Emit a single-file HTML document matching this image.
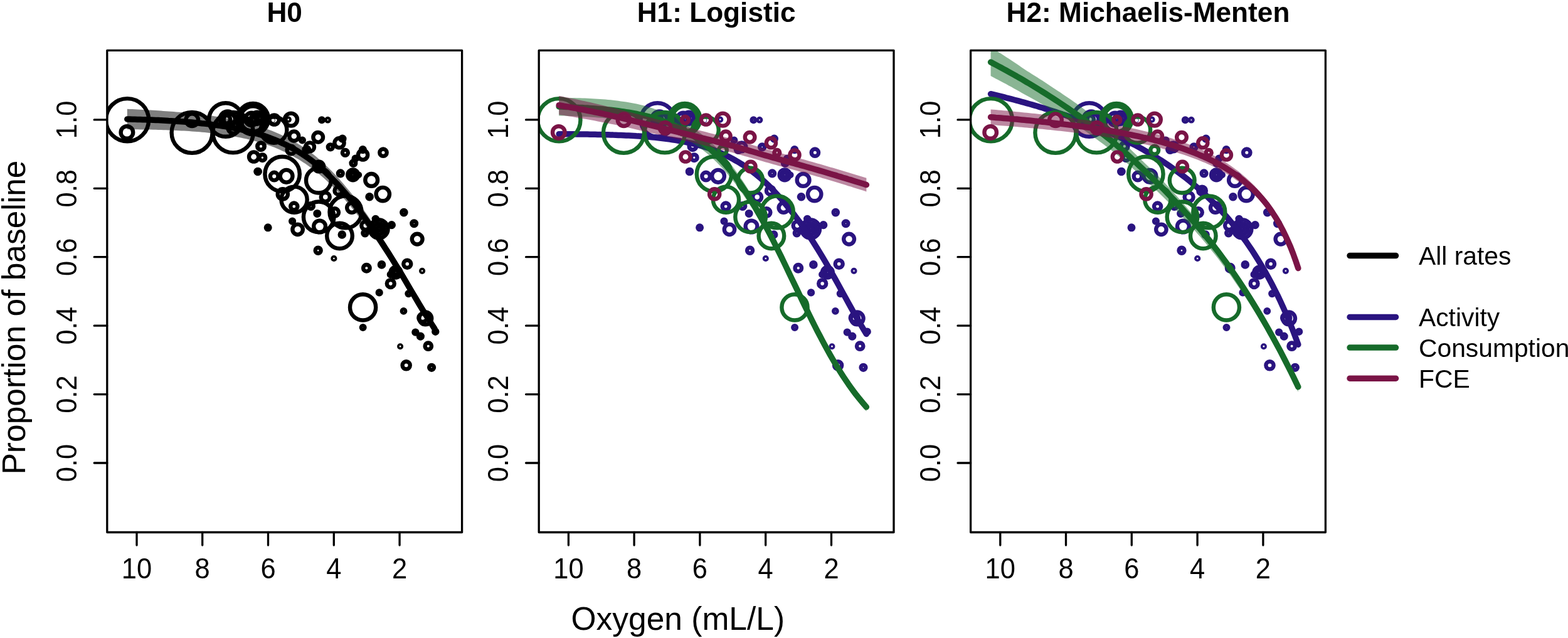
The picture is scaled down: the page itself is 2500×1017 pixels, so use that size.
<!DOCTYPE html>
<html lang="en"><head><meta charset="utf-8"><title>Oxygen response hypotheses</title>
<style>html,body{margin:0;padding:0;background:#fff}body{width:2500px;height:1017px;overflow:hidden}svg{display:block}text{font-family:'Liberation Sans', Arial, Helvetica, sans-serif}</style></head><body>
<svg width="2500" height="1017" viewBox="0 0 2500 1017">
<rect width="2500" height="1017" fill="#fff"/>
<defs>
<clipPath id="clip0"><rect x="170.8" y="80.4" width="565.8" height="768.1"/></clipPath>
<clipPath id="clip1"><rect x="859.2" y="80.4" width="565.8" height="768.1"/></clipPath>
<clipPath id="clip2"><rect x="1547.6" y="80.4" width="565.8" height="768.1"/></clipPath>
</defs>
<g clip-path="url(#clip0)">
<g fill="none" stroke="#000000" stroke-width="6.4">
<circle cx="203" cy="191.2" r="34.1"/>
<circle cx="202.4" cy="211" r="9.8"/>
<circle cx="306.2" cy="191.2" r="9.8"/>
<circle cx="306.1" cy="211.4" r="32.5"/>
<circle cx="371.6" cy="211.2" r="32.2"/>
<circle cx="359.9" cy="191" r="26.8"/>
<circle cx="363" cy="189.8" r="12.3"/>
<circle cx="360.8" cy="190.3" r="6.3"/>
<circle cx="365.8" cy="190.5" r="9.1"/>
<circle cx="403.4" cy="189.6" r="24.6"/>
<circle cx="403.4" cy="189.6" r="20.2"/>
<circle cx="404" cy="191.2" r="5.5"/>
<circle cx="404.6" cy="191" r="0.3"/>
<circle cx="410.1" cy="188.3" r="9.6"/>
<circle cx="437.2" cy="191" r="7.6"/>
<circle cx="435.2" cy="191.8" r="0.4"/>
<circle cx="464" cy="190.6" r="10"/>
<circle cx="459.8" cy="190.6" r="1.9"/>
<circle cx="436.6" cy="207" r="20.8"/>
<circle cx="468.8" cy="217" r="7.5"/>
<circle cx="507.2" cy="218.8" r="7.8"/>
<circle cx="372.2" cy="203.8" r="8.8"/>
<circle cx="404.6" cy="250" r="7.6"/>
<circle cx="418.4" cy="251.2" r="4.8"/>
<circle cx="411.2" cy="273.4" r="3.4"/>
<circle cx="416" cy="233.2" r="5.8"/>
<circle cx="464" cy="239.2" r="6.4"/>
<circle cx="482" cy="223.6" r="2.8"/>
<circle cx="494" cy="234.4" r="7"/>
<circle cx="508.4" cy="265.6" r="7.8"/>
<circle cx="513" cy="191.2" r="2.8"/>
<circle cx="522.6" cy="191.2" r="2.2"/>
<circle cx="541" cy="227.8" r="7.6"/>
<circle cx="546" cy="221.2" r="3.4"/>
<circle cx="526.8" cy="234.4" r="4"/>
<circle cx="550.4" cy="243.4" r="4.5"/>
<circle cx="578.6" cy="247" r="7.6"/>
<circle cx="578.4" cy="238.6" r="3.4"/>
<circle cx="611" cy="243.2" r="5.7"/>
<circle cx="450.8" cy="309.4" r="8.1"/>
<circle cx="411" cy="273.6" r="3.5"/>
<circle cx="437.2" cy="281.1" r="6.3"/>
<circle cx="456.6" cy="280.8" r="9.9"/>
<circle cx="542.8" cy="276.4" r="3.9"/>
<circle cx="562.7" cy="278.8" r="8.4"/>
<circle cx="571.8" cy="278.8" r="2.2"/>
<circle cx="592.2" cy="286.9" r="9.9"/>
<circle cx="610.3" cy="309.6" r="10.7"/>
<circle cx="589.1" cy="313.8" r="3.6"/>
<circle cx="643.9" cy="338.6" r="3.6"/>
<circle cx="660.2" cy="356.3" r="3.8"/>
<circle cx="468.8" cy="329.1" r="5.6"/>
<circle cx="518.8" cy="314.1" r="7"/>
<circle cx="539.8" cy="303.9" r="6.3"/>
<circle cx="560.9" cy="331.1" r="7.7"/>
<circle cx="533.7" cy="338.6" r="6.3"/>
<circle cx="495.6" cy="328.4" r="4.3"/>
<circle cx="505.8" cy="340.4" r="3.3"/>
<circle cx="466.1" cy="352.6" r="2.9"/>
<circle cx="427.2" cy="362.8" r="3.3"/>
<circle cx="474.6" cy="365.8" r="8.2"/>
<circle cx="509.6" cy="361" r="9.4"/>
<circle cx="545.3" cy="374" r="3.6"/>
<circle cx="450.1" cy="277.4" r="27.7"/>
<circle cx="507.9" cy="287.6" r="19.9"/>
<circle cx="469.1" cy="318.2" r="20.6"/>
<circle cx="508.2" cy="345.8" r="24.3"/>
<circle cx="551" cy="337.9" r="25.5"/>
<circle cx="541.5" cy="376" r="20.3"/>
<circle cx="507.2" cy="399.2" r="4.5"/>
<circle cx="532.4" cy="412" r="1.9"/>
<circle cx="584.4" cy="427.3" r="5.3"/>
<circle cx="608.5" cy="421.9" r="3.6"/>
<circle cx="649.3" cy="420.8" r="6"/>
<circle cx="673.1" cy="431.8" r="1.9"/>
<circle cx="622.8" cy="452.1" r="6"/>
<circle cx="604.7" cy="466.4" r="2.9"/>
<circle cx="631" cy="434.1" r="8.4"/>
<circle cx="622.8" cy="437.5" r="2.9"/>
<circle cx="651.4" cy="468.1" r="2.9"/>
<circle cx="665.2" cy="381.1" r="8.4"/>
<circle cx="582" cy="371.6" r="3.6"/>
<circle cx="578.6" cy="489.9" r="20.6"/>
<circle cx="643.5" cy="495.9" r="2.7"/>
<circle cx="678.3" cy="507.4" r="9.9"/>
<circle cx="673.9" cy="506.5" r="6.5"/>
<circle cx="694.3" cy="528.7" r="3"/>
<circle cx="662.4" cy="529.6" r="3"/>
<circle cx="670.4" cy="536.1" r="3.4"/>
<circle cx="682.8" cy="551.7" r="5.2"/>
<circle cx="638.1" cy="552.2" r="1.8"/>
<circle cx="578.7" cy="521.9" r="2.8"/>
<circle cx="647.7" cy="582.3" r="6.1"/>
<circle cx="688.1" cy="585.8" r="3.9"/>
<circle cx="604.1" cy="364.9" r="14.5"/>
<circle cx="604.1" cy="364.9" r="8.7"/>
<circle cx="604.1" cy="364.9" r="3"/>
<circle cx="598.8" cy="348.9" r="3"/>
<circle cx="624.4" cy="358.7" r="3.4"/>
<circle cx="582.8" cy="359.6" r="6.5"/>
<circle cx="412.3" cy="188.5" r="5.3"/>
<circle cx="562.7" cy="278.8" r="3.6"/>
<circle cx="631" cy="434.1" r="3.6"/>
<circle cx="631" cy="434.1" r="0.3"/>
<circle cx="401.1" cy="189.8" r="10.1"/>
<circle cx="416" cy="233.2" r="1"/>
<circle cx="566.7" cy="252.6" r="3"/>
<circle cx="563.4" cy="260.1" r="3.8"/>
<circle cx="488.8" cy="238.5" r="4.3"/>
</g>
<path d="M202.8 173.8 L206.9 173.9 L211 174.1 L215.1 174.3 L219.2 174.5 L223.4 174.7 L227.5 174.9 L231.6 175.1 L235.7 175.4 L239.8 175.6 L244 175.8 L248.1 176.1 L252.2 176.3 L256.3 176.6 L260.4 176.9 L264.6 177.2 L268.7 177.5 L272.8 177.8 L276.9 178.1 L281 178.4 L285.2 178.8 L289.3 179.1 L293.4 179.5 L297.5 179.9 L301.6 180.3 L305.8 180.8 L309.9 181.2 L314 181.7 L318.1 182.1 L322.2 182.6 L326.4 183.2 L330.5 183.7 L334.6 184.2 L338.7 184.8 L342.8 185.4 L346.9 186.1 L351.1 186.7 L355.2 187.4 L359.3 188.1 L363.4 188.9 L367.5 189.7 L371.7 190.5 L375.8 191.4 L379.9 192.3 L384 193.3 L388.1 194.2 L392.3 195.3 L396.4 196.4 L400.5 197.5 L404.6 198.7 L408.7 199.9 L412.9 201.2 L417 202.6 L421.1 204 L425.2 205.5 L429.3 207 L433.5 208.6 L437.6 210.3 L441.7 212 L445.8 213.8 L449.9 215.7 L454.1 217.7 L458.2 219.8 L462.3 222 L466.4 224.2 L470.5 226.6 L474.7 229 L478.8 231.6 L482.9 234.2 L487 237 L491.1 239.9 L495.3 242.9 L499.4 246 L503.5 249.3 L507.6 252.8 L511.7 256.4 L515.9 260.1 L520 264 L524.1 267.9 L528.2 272 L532.3 276.3 L536.5 280.6 L540.6 285.1 L544.7 289.7 L548.8 294.5 L552.9 299.4 L557.1 304.4 L561.2 309.5 L565.3 314.8 L569.4 320.1 L573.5 325.7 L577.7 331.4 L581.8 337.2 L585.9 343.1 L590 349.2 L594.1 355.3 L598.3 361.6 L602.4 367.9 L606.5 374.3 L610.6 380.9 L614.7 387.3 L618.9 393.9 L623 400.5 L627.1 407.1 L631.2 413.9 L635.3 420.7 L639.5 427.7 L643.6 434.7 L647.7 441.8 L651.8 448.9 L655.9 456 L660.1 463.1 L664.2 470.1 L668.3 477.1 L672.4 484 L676.5 490.8 L680.7 497.5 L684.8 504.1 L688.9 510.7 L693 517.1 L693 531.1 L688.9 524.9 L684.8 518.5 L680.7 512.1 L676.5 505.6 L672.4 499 L668.3 492.3 L664.2 485.5 L660.1 478.7 L655.9 471.8 L651.8 464.9 L647.7 458 L643.6 451.1 L639.5 444.3 L635.3 437.5 L631.2 430.9 L627.1 424.3 L623 417.9 L618.9 411.5 L614.7 405.2 L610.6 398.9 L606.5 392.8 L602.4 386.7 L598.3 380.8 L594.1 374.9 L590 369.2 L585.9 363.5 L581.8 358 L577.7 352.6 L573.5 347.3 L569.4 342.1 L565.3 336.9 L561.2 331.7 L557.1 326.7 L552.9 321.8 L548.8 317 L544.7 312.4 L540.6 307.9 L536.5 303.5 L532.3 299.3 L528.2 295.2 L524.1 291.2 L520 287.3 L515.9 283.6 L511.7 279.9 L507.6 276.5 L503.5 273.1 L499.4 269.9 L495.3 266.9 L491.1 264 L487 261.1 L482.9 258.4 L478.8 255.8 L474.7 253.3 L470.5 250.9 L466.4 248.6 L462.3 246.4 L458.2 244.3 L454.1 242.3 L449.9 240.4 L445.8 238.6 L441.7 236.8 L437.6 235.1 L433.5 233.5 L429.3 232 L425.2 230.6 L421.1 229.2 L417 227.9 L412.9 226.7 L408.7 225.5 L404.6 224.3 L400.5 223.3 L396.4 222.3 L392.3 221.3 L388.1 220.4 L384 219.5 L379.9 218.7 L375.8 217.9 L371.7 217.1 L367.5 216.4 L363.4 215.7 L359.3 215.1 L355.2 214.5 L351.1 213.9 L346.9 213.4 L342.8 212.9 L338.7 212.4 L334.6 211.9 L330.5 211.5 L326.4 211.1 L322.2 210.7 L318.1 210.3 L314 210 L309.9 209.7 L305.8 209.4 L301.6 209.1 L297.5 208.8 L293.4 208.6 L289.3 208.4 L285.2 208.2 L281 208 L276.9 207.8 L272.8 207.6 L268.7 207.5 L264.6 207.3 L260.4 207.2 L256.3 207 L252.2 206.9 L248.1 206.8 L244 206.7 L239.8 206.6 L235.7 206.6 L231.6 206.5 L227.5 206.4 L223.4 206.4 L219.2 206.3 L215.1 206.3 L211 206.2 L206.9 206.2 L202.8 206.2Z" fill="#000000" fill-opacity="0.5" stroke="none"/>
<path d="M202.8 190 L206.9 190.1 L211 190.2 L215.1 190.3 L219.2 190.4 L223.4 190.5 L227.5 190.7 L231.6 190.8 L235.7 191 L239.8 191.1 L244 191.3 L248.1 191.5 L252.2 191.6 L256.3 191.8 L260.4 192 L264.6 192.2 L268.7 192.5 L272.8 192.7 L276.9 192.9 L281 193.2 L285.2 193.5 L289.3 193.8 L293.4 194.1 L297.5 194.4 L301.6 194.7 L305.8 195.1 L309.9 195.4 L314 195.8 L318.1 196.2 L322.2 196.7 L326.4 197.1 L330.5 197.6 L334.6 198.1 L338.7 198.6 L342.8 199.1 L346.9 199.7 L351.1 200.3 L355.2 201 L359.3 201.6 L363.4 202.3 L367.5 203.1 L371.7 203.8 L375.8 204.6 L379.9 205.5 L384 206.4 L388.1 207.3 L392.3 208.3 L396.4 209.3 L400.5 210.4 L404.6 211.5 L408.7 212.7 L412.9 213.9 L417 215.2 L421.1 216.6 L425.2 218 L429.3 219.5 L433.5 221.1 L437.6 222.7 L441.7 224.4 L445.8 226.2 L449.9 228.1 L454.1 230 L458.2 232.1 L462.3 234.2 L466.4 236.4 L470.5 238.7 L474.7 241.2 L478.8 243.7 L482.9 246.3 L487 249.1 L491.1 251.9 L495.3 254.9 L499.4 258 L503.5 261.2 L507.6 264.6 L511.7 268.2 L515.9 271.8 L520 275.6 L524.1 279.6 L528.2 283.6 L532.3 287.8 L536.5 292.1 L540.6 296.5 L544.7 301.1 L548.8 305.8 L552.9 310.6 L557.1 315.5 L561.2 320.6 L565.3 325.8 L569.4 331.1 L573.5 336.5 L577.7 342 L581.8 347.6 L585.9 353.3 L590 359.2 L594.1 365.1 L598.3 371.2 L602.4 377.3 L606.5 383.5 L610.6 389.9 L614.7 396.3 L618.9 402.7 L623 409.2 L627.1 415.7 L631.2 422.4 L635.3 429.1 L639.5 436 L643.6 442.9 L647.7 449.9 L651.8 456.9 L655.9 463.9 L660.1 470.9 L664.2 477.8 L668.3 484.7 L672.4 491.5 L676.5 498.2 L680.7 504.8 L684.8 511.3 L688.9 517.8 L693 524.1" fill="none" stroke="#000000" stroke-width="9.5" stroke-linecap="round" stroke-linejoin="round"/>
</g>
<rect x="170.8" y="80.4" width="565.8" height="768.1" fill="none" stroke="#000" stroke-width="3.3" stroke-linejoin="round"/>
<path d="M218 848.5 V869.1 M322.7 848.5 V869.1 M427.5 848.5 V869.1 M532.3 848.5 V869.1 M637.1 848.5 V869.1 M170.8 738 H150.2 M170.8 628.6 H150.2 M170.8 519.2 H150.2 M170.8 409.7 H150.2 M170.8 300.3 H150.2 M170.8 190.9 H150.2" fill="none" stroke="#000" stroke-width="3.3" stroke-linecap="round"/>
<g font-size="43.5" text-anchor="middle" fill="#000">
<text transform="translate(218 922.4) scale(1 1.075)">10</text>
<text transform="translate(322.7 922.4) scale(1 1.075)">8</text>
<text transform="translate(427.5 922.4) scale(1 1.075)">6</text>
<text transform="translate(532.3 922.4) scale(1 1.075)">4</text>
<text transform="translate(637.1 922.4) scale(1 1.075)">2</text>
<text transform="translate(122 738) rotate(-90) scale(1 1.075)">0.0</text>
<text transform="translate(122 628.6) rotate(-90) scale(1 1.075)">0.2</text>
<text transform="translate(122 519.2) rotate(-90) scale(1 1.075)">0.4</text>
<text transform="translate(122 409.7) rotate(-90) scale(1 1.075)">0.6</text>
<text transform="translate(122 300.3) rotate(-90) scale(1 1.075)">0.8</text>
<text transform="translate(122 190.9) rotate(-90) scale(1 1.075)">1.0</text>
</g>
<g clip-path="url(#clip1)">
<g fill="none" stroke="#2a1480" stroke-width="6.4">
<circle cx="1048.3" cy="191" r="26.8"/>
<circle cx="1051.4" cy="189.8" r="12.3"/>
<circle cx="1049.2" cy="190.3" r="6.3"/>
<circle cx="1054.2" cy="190.5" r="9.1"/>
<circle cx="1093" cy="191" r="0.3"/>
<circle cx="1098.5" cy="188.3" r="9.6"/>
<circle cx="1123.6" cy="191.8" r="0.4"/>
<circle cx="1148.2" cy="190.6" r="1.9"/>
<circle cx="1106.8" cy="251.2" r="4.8"/>
<circle cx="1099.6" cy="273.4" r="3.4"/>
<circle cx="1104.4" cy="233.2" r="5.8"/>
<circle cx="1170.4" cy="223.6" r="2.8"/>
<circle cx="1182.4" cy="234.4" r="7"/>
<circle cx="1201.4" cy="191.2" r="2.8"/>
<circle cx="1211" cy="191.2" r="2.2"/>
<circle cx="1234.4" cy="221.2" r="3.4"/>
<circle cx="1215.2" cy="234.4" r="4"/>
<circle cx="1266.8" cy="238.6" r="3.4"/>
<circle cx="1299.4" cy="243.2" r="5.7"/>
<circle cx="1099.4" cy="273.6" r="3.5"/>
<circle cx="1125.6" cy="281.1" r="6.3"/>
<circle cx="1145" cy="280.8" r="9.9"/>
<circle cx="1231.2" cy="276.4" r="3.9"/>
<circle cx="1251.1" cy="278.8" r="8.4"/>
<circle cx="1260.2" cy="278.8" r="2.2"/>
<circle cx="1280.6" cy="286.9" r="9.9"/>
<circle cx="1298.7" cy="309.6" r="10.7"/>
<circle cx="1277.5" cy="313.8" r="3.6"/>
<circle cx="1332.3" cy="338.6" r="3.6"/>
<circle cx="1348.6" cy="356.3" r="3.8"/>
<circle cx="1157.2" cy="329.1" r="5.6"/>
<circle cx="1207.2" cy="314.1" r="7"/>
<circle cx="1228.2" cy="303.9" r="6.3"/>
<circle cx="1249.3" cy="331.1" r="7.7"/>
<circle cx="1222.1" cy="338.6" r="6.3"/>
<circle cx="1184" cy="328.4" r="4.3"/>
<circle cx="1194.2" cy="340.4" r="3.3"/>
<circle cx="1154.5" cy="352.6" r="2.9"/>
<circle cx="1115.6" cy="362.8" r="3.3"/>
<circle cx="1163" cy="365.8" r="8.2"/>
<circle cx="1198" cy="361" r="9.4"/>
<circle cx="1233.7" cy="374" r="3.6"/>
<circle cx="1195.6" cy="399.2" r="4.5"/>
<circle cx="1220.8" cy="412" r="1.9"/>
<circle cx="1272.8" cy="427.3" r="5.3"/>
<circle cx="1296.9" cy="421.9" r="3.6"/>
<circle cx="1337.7" cy="420.8" r="6"/>
<circle cx="1361.5" cy="431.8" r="1.9"/>
<circle cx="1311.2" cy="452.1" r="6"/>
<circle cx="1293.1" cy="466.4" r="2.9"/>
<circle cx="1319.4" cy="434.1" r="8.4"/>
<circle cx="1311.2" cy="437.5" r="2.9"/>
<circle cx="1339.8" cy="468.1" r="2.9"/>
<circle cx="1353.6" cy="381.1" r="8.4"/>
<circle cx="1270.4" cy="371.6" r="3.6"/>
<circle cx="1331.9" cy="495.9" r="2.7"/>
<circle cx="1366.7" cy="507.4" r="9.9"/>
<circle cx="1362.3" cy="506.5" r="6.5"/>
<circle cx="1382.7" cy="528.7" r="3"/>
<circle cx="1350.8" cy="529.6" r="3"/>
<circle cx="1358.8" cy="536.1" r="3.4"/>
<circle cx="1371.2" cy="551.7" r="5.2"/>
<circle cx="1326.5" cy="552.2" r="1.8"/>
<circle cx="1267.1" cy="521.9" r="2.8"/>
<circle cx="1336.1" cy="582.3" r="6.1"/>
<circle cx="1376.5" cy="585.8" r="3.9"/>
<circle cx="1292.5" cy="364.9" r="14.5"/>
<circle cx="1292.5" cy="364.9" r="8.7"/>
<circle cx="1292.5" cy="364.9" r="3"/>
<circle cx="1287.2" cy="348.9" r="3"/>
<circle cx="1312.8" cy="358.7" r="3.4"/>
<circle cx="1271.2" cy="359.6" r="6.5"/>
<circle cx="1100.7" cy="188.5" r="5.3"/>
<circle cx="1251.1" cy="278.8" r="3.6"/>
<circle cx="1319.4" cy="434.1" r="3.6"/>
<circle cx="1319.4" cy="434.1" r="0.3"/>
<circle cx="1089.5" cy="189.8" r="10.1"/>
<circle cx="1104.4" cy="233.2" r="1"/>
<circle cx="1255.1" cy="252.6" r="3"/>
<circle cx="1251.8" cy="260.1" r="3.8"/>
<circle cx="1177.2" cy="238.5" r="4.3"/>
</g>
<path d="M891.2 209.7 L895.3 209.7 L899.4 209.7 L903.5 209.7 L907.6 209.8 L911.8 209.8 L915.9 209.8 L920 209.9 L924.1 209.9 L928.2 210 L932.4 210 L936.5 210.1 L940.6 210.2 L944.7 210.2 L948.8 210.3 L953 210.4 L957.1 210.5 L961.2 210.6 L965.3 210.7 L969.4 210.8 L973.6 210.9 L977.7 211.1 L981.8 211.2 L985.9 211.4 L990 211.5 L994.2 211.7 L998.3 211.9 L1002.4 212.1 L1006.5 212.3 L1010.6 212.5 L1014.8 212.8 L1018.9 213 L1023 213.3 L1027.1 213.6 L1031.2 214 L1035.3 214.3 L1039.5 214.7 L1043.6 215.1 L1047.7 215.5 L1051.8 216 L1055.9 216.5 L1060.1 217 L1064.2 217.6 L1068.3 218.1 L1072.4 218.8 L1076.5 219.4 L1080.7 220.1 L1084.8 220.8 L1088.9 221.6 L1093 222.4 L1097.1 223.3 L1101.3 224.2 L1105.4 225.2 L1109.5 226.2 L1113.6 227.2 L1117.7 228.4 L1121.9 229.6 L1126 230.9 L1130.1 232.3 L1134.2 233.8 L1138.3 235.3 L1142.5 237 L1146.6 238.7 L1150.7 240.6 L1154.8 242.5 L1158.9 244.5 L1163.1 246.6 L1167.2 248.7 L1171.3 251 L1175.4 253.3 L1179.5 255.8 L1183.7 258.4 L1187.8 261.1 L1191.9 263.9 L1196 266.9 L1200.1 269.9 L1204.3 273.1 L1208.4 276.5 L1212.5 280 L1216.6 283.6 L1220.7 287.3 L1224.9 291.2 L1229 295.3 L1233.1 299.6 L1237.2 304 L1241.3 308.5 L1245.5 313.2 L1249.6 318 L1253.7 322.9 L1257.8 327.9 L1261.9 332.9 L1266.1 338.1 L1270.2 343.5 L1274.3 349 L1278.4 354.8 L1282.5 360.6 L1286.7 366.6 L1290.8 372.8 L1294.9 379.1 L1299 385.6 L1303.1 392.1 L1307.3 398.9 L1311.4 405.7 L1315.5 412.6 L1319.6 419.7 L1323.7 426.8 L1327.9 434.1 L1332 441.4 L1336.1 448.8 L1340.2 456.3 L1344.3 463.7 L1348.5 471.2 L1352.6 478.7 L1356.7 486.1 L1360.8 493.5 L1364.9 500.8 L1369.1 508 L1373.2 514.9 L1377.3 521.7 L1381.4 528.4 L1381.4 536.4 L1377.3 529.7 L1373.2 522.9 L1369.1 516 L1364.9 508.8 L1360.8 501.5 L1356.7 494.1 L1352.6 486.7 L1348.5 479.2 L1344.3 471.7 L1340.2 464.3 L1336.1 456.8 L1332 449.4 L1327.9 442.1 L1323.7 434.8 L1319.6 427.7 L1315.5 420.6 L1311.4 413.7 L1307.3 406.9 L1303.1 400.1 L1299 393.6 L1294.9 387.1 L1290.8 380.8 L1286.7 374.6 L1282.5 368.6 L1278.4 362.8 L1274.3 357 L1270.2 351.5 L1266.1 346.1 L1261.9 340.9 L1257.8 335.9 L1253.7 330.9 L1249.6 326 L1245.5 321.2 L1241.3 316.5 L1237.2 312 L1233.1 307.6 L1229 303.3 L1224.9 299.2 L1220.7 295.3 L1216.6 291.6 L1212.5 288 L1208.4 284.5 L1204.3 281.1 L1200.1 277.9 L1196 274.9 L1191.9 271.9 L1187.8 269.1 L1183.7 266.4 L1179.5 263.8 L1175.4 261.3 L1171.3 259 L1167.2 256.7 L1163.1 254.6 L1158.9 252.5 L1154.8 250.5 L1150.7 248.6 L1146.6 246.7 L1142.5 245 L1138.3 243.3 L1134.2 241.8 L1130.1 240.3 L1126 238.9 L1121.9 237.6 L1117.7 236.4 L1113.6 235.2 L1109.5 234.2 L1105.4 233.2 L1101.3 232.2 L1097.1 231.3 L1093 230.4 L1088.9 229.6 L1084.8 228.8 L1080.7 228.1 L1076.5 227.4 L1072.4 226.8 L1068.3 226.1 L1064.2 225.6 L1060.1 225 L1055.9 224.5 L1051.8 224 L1047.7 223.5 L1043.6 223.1 L1039.5 222.7 L1035.3 222.3 L1031.2 222 L1027.1 221.6 L1023 221.3 L1018.9 221 L1014.8 220.8 L1010.6 220.5 L1006.5 220.3 L1002.4 220.1 L998.3 219.9 L994.2 219.7 L990 219.5 L985.9 219.4 L981.8 219.2 L977.7 219.1 L973.6 218.9 L969.4 218.8 L965.3 218.7 L961.2 218.6 L957.1 218.5 L953 218.4 L948.8 218.3 L944.7 218.2 L940.6 218.2 L936.5 218.1 L932.4 218 L928.2 218 L924.1 217.9 L920 217.9 L915.9 217.8 L911.8 217.8 L907.6 217.8 L903.5 217.7 L899.4 217.7 L895.3 217.7 L891.2 217.7Z" fill="#2a1480" fill-opacity="0.5" stroke="none"/>
<path d="M891.2 213.7 L895.3 213.7 L899.4 213.7 L903.5 213.7 L907.6 213.8 L911.8 213.8 L915.9 213.8 L920 213.9 L924.1 213.9 L928.2 214 L932.4 214 L936.5 214.1 L940.6 214.2 L944.7 214.2 L948.8 214.3 L953 214.4 L957.1 214.5 L961.2 214.6 L965.3 214.7 L969.4 214.8 L973.6 214.9 L977.7 215.1 L981.8 215.2 L985.9 215.4 L990 215.5 L994.2 215.7 L998.3 215.9 L1002.4 216.1 L1006.5 216.3 L1010.6 216.5 L1014.8 216.8 L1018.9 217 L1023 217.3 L1027.1 217.6 L1031.2 218 L1035.3 218.3 L1039.5 218.7 L1043.6 219.1 L1047.7 219.5 L1051.8 220 L1055.9 220.5 L1060.1 221 L1064.2 221.6 L1068.3 222.1 L1072.4 222.8 L1076.5 223.4 L1080.7 224.1 L1084.8 224.8 L1088.9 225.6 L1093 226.4 L1097.1 227.3 L1101.3 228.2 L1105.4 229.2 L1109.5 230.2 L1113.6 231.2 L1117.7 232.4 L1121.9 233.6 L1126 234.9 L1130.1 236.3 L1134.2 237.8 L1138.3 239.3 L1142.5 241 L1146.6 242.7 L1150.7 244.6 L1154.8 246.5 L1158.9 248.5 L1163.1 250.6 L1167.2 252.7 L1171.3 255 L1175.4 257.3 L1179.5 259.8 L1183.7 262.4 L1187.8 265.1 L1191.9 267.9 L1196 270.9 L1200.1 273.9 L1204.3 277.1 L1208.4 280.5 L1212.5 284 L1216.6 287.6 L1220.7 291.3 L1224.9 295.2 L1229 299.3 L1233.1 303.6 L1237.2 308 L1241.3 312.5 L1245.5 317.2 L1249.6 322 L1253.7 326.9 L1257.8 331.9 L1261.9 336.9 L1266.1 342.1 L1270.2 347.5 L1274.3 353 L1278.4 358.8 L1282.5 364.6 L1286.7 370.6 L1290.8 376.8 L1294.9 383.1 L1299 389.6 L1303.1 396.1 L1307.3 402.9 L1311.4 409.7 L1315.5 416.6 L1319.6 423.7 L1323.7 430.8 L1327.9 438.1 L1332 445.4 L1336.1 452.8 L1340.2 460.3 L1344.3 467.7 L1348.5 475.2 L1352.6 482.7 L1356.7 490.1 L1360.8 497.5 L1364.9 504.8 L1369.1 512 L1373.2 518.9 L1377.3 525.7 L1381.4 532.4" fill="none" stroke="#2a1480" stroke-width="9.5" stroke-linecap="round" stroke-linejoin="round"/>
<g fill="none" stroke="#166b2a" stroke-width="6.4">
<circle cx="891.4" cy="191.2" r="34.1"/>
<circle cx="994.5" cy="211.4" r="32.5"/>
<circle cx="1060" cy="211.2" r="32.2"/>
<circle cx="1091.8" cy="189.6" r="24.6"/>
<circle cx="1091.8" cy="189.6" r="20.2"/>
<circle cx="1125" cy="207" r="20.8"/>
<circle cx="1152.4" cy="239.2" r="6.4"/>
<circle cx="1138.5" cy="277.4" r="27.7"/>
<circle cx="1196.3" cy="287.6" r="19.9"/>
<circle cx="1157.5" cy="318.2" r="20.6"/>
<circle cx="1196.6" cy="345.8" r="24.3"/>
<circle cx="1239.4" cy="337.9" r="25.5"/>
<circle cx="1229.9" cy="376" r="20.3"/>
<circle cx="1267" cy="489.9" r="20.6"/>
</g>
<path d="M891.2 155.6 L895.3 155.7 L899.4 155.7 L903.5 155.8 L907.6 155.9 L911.8 156 L915.9 156.1 L920 156.2 L924.1 156.3 L928.2 156.5 L932.4 156.6 L936.5 156.8 L940.6 157 L944.7 157.2 L948.8 157.4 L953 157.7 L957.1 158 L961.2 158.2 L965.3 158.6 L969.4 158.9 L973.6 159.3 L977.7 159.8 L981.8 160.3 L985.9 160.8 L990 161.4 L994.2 162 L998.3 162.6 L1002.4 163.3 L1006.5 164 L1010.6 164.7 L1014.8 165.5 L1018.9 166.5 L1023 167.5 L1027.1 168.6 L1031.2 169.8 L1035.3 171 L1039.5 172.3 L1043.6 173.7 L1047.7 175.1 L1051.8 176.6 L1055.9 178.1 L1060.1 179.8 L1064.2 181.5 L1068.3 183.3 L1072.4 185.2 L1076.5 187.2 L1080.7 189.3 L1084.8 191.5 L1088.9 193.8 L1093 196.2 L1097.1 198.7 L1101.3 201.3 L1105.4 204.1 L1109.5 207 L1113.6 210 L1117.7 213.1 L1121.9 216.5 L1126 219.9 L1130.1 223.6 L1134.2 227.4 L1138.3 231.3 L1142.5 235.5 L1146.6 239.8 L1150.7 244.3 L1154.8 249 L1158.9 253.9 L1163.1 259 L1167.2 264.3 L1171.3 269.8 L1175.4 275.5 L1179.5 281.4 L1183.7 287.4 L1187.8 293.7 L1191.9 300.2 L1196 306.9 L1200.1 313.7 L1204.3 320.8 L1208.4 328 L1212.5 335.5 L1216.6 343 L1220.7 350.8 L1224.9 358.7 L1229 366.7 L1233.1 374.9 L1237.2 383.1 L1241.3 391.5 L1245.5 400 L1249.6 408.5 L1253.7 417.1 L1257.8 425.7 L1261.9 434.4 L1266.1 443.1 L1270.2 451.8 L1274.3 460.4 L1278.4 469.1 L1282.5 477.6 L1286.7 486.2 L1290.8 494.6 L1294.9 503 L1299 511.3 L1303.1 519.4 L1307.3 527.4 L1311.4 535.3 L1315.5 543.1 L1319.6 550.6 L1323.7 558 L1327.9 565.3 L1332 572.3 L1336.1 579.2 L1340.2 585.9 L1344.3 592.4 L1348.5 598.7 L1352.6 604.7 L1356.7 610.6 L1360.8 616.3 L1364.9 621.8 L1369.1 627.1 L1373.2 632.2 L1377.3 637.1 L1381.4 641.8 L1381.4 655.8 L1377.3 651.2 L1373.2 646.4 L1369.1 641.5 L1364.9 636.3 L1360.8 630.9 L1356.7 625.4 L1352.6 619.6 L1348.5 613.6 L1344.3 607.5 L1340.2 601.1 L1336.1 594.6 L1332 587.8 L1327.9 580.9 L1323.7 573.8 L1319.6 566.5 L1315.5 559 L1311.4 551.4 L1307.3 543.6 L1303.1 535.7 L1299 527.7 L1294.9 519.6 L1290.8 511.3 L1286.7 503 L1282.5 494.6 L1278.4 486.1 L1274.3 477.6 L1270.2 469.1 L1266.1 460.5 L1261.9 452 L1257.8 443.4 L1253.7 434.9 L1249.6 426.5 L1245.5 418.1 L1241.3 409.8 L1237.2 401.6 L1233.1 393.6 L1229 385.6 L1224.9 377.8 L1220.7 370.1 L1216.6 362.6 L1212.5 355.2 L1208.4 348 L1204.3 341 L1200.1 334.1 L1196 327.5 L1191.9 321 L1187.8 314.7 L1183.7 308.7 L1179.5 302.8 L1175.4 297.1 L1171.3 291.6 L1167.2 286.3 L1163.1 281.2 L1158.9 276.3 L1154.8 271.6 L1150.7 267 L1146.6 262.7 L1142.5 258.5 L1138.3 254.5 L1134.2 250.7 L1130.1 247 L1126 243.5 L1121.9 240.2 L1117.7 237.1 L1113.6 234.1 L1109.5 231.2 L1105.4 228.5 L1101.3 225.9 L1097.1 223.4 L1093 221.1 L1088.9 218.9 L1084.8 216.8 L1080.7 214.8 L1076.5 212.9 L1072.4 211.2 L1068.3 209.5 L1064.2 207.9 L1060.1 206.4 L1055.9 205 L1051.8 203.6 L1047.7 202.4 L1043.6 201.2 L1039.5 200 L1035.3 199 L1031.2 198 L1027.1 197 L1023 196.2 L1018.9 195.3 L1014.8 194.6 L1010.6 193.8 L1006.5 193.2 L1002.4 192.6 L998.3 192 L994.2 191.4 L990 190.9 L985.9 190.5 L981.8 190 L977.7 189.6 L973.6 189.2 L969.4 188.9 L965.3 188.5 L961.2 188.1 L957.1 187.8 L953 187.4 L948.8 187.1 L944.7 186.8 L940.6 186.6 L936.5 186.3 L932.4 186.1 L928.2 185.9 L924.1 185.6 L920 185.5 L915.9 185.3 L911.8 185.1 L907.6 184.9 L903.5 184.8 L899.4 184.6 L895.3 184.5 L891.2 184.4Z" fill="#166b2a" fill-opacity="0.5" stroke="none"/>
<path d="M891.2 170 L895.3 170.1 L899.4 170.3 L903.5 170.4 L907.6 170.6 L911.8 170.8 L915.9 171 L920 171.2 L924.1 171.4 L928.2 171.6 L932.4 171.9 L936.5 172.1 L940.6 172.4 L944.7 172.7 L948.8 173 L953 173.4 L957.1 173.7 L961.2 174.1 L965.3 174.5 L969.4 174.9 L973.6 175.3 L977.7 175.8 L981.8 176.3 L985.9 176.8 L990 177.4 L994.2 178 L998.3 178.6 L1002.4 179.3 L1006.5 180 L1010.6 180.7 L1014.8 181.5 L1018.9 182.4 L1023 183.2 L1027.1 184.2 L1031.2 185.2 L1035.3 186.2 L1039.5 187.4 L1043.6 188.5 L1047.7 189.8 L1051.8 191.1 L1055.9 192.5 L1060.1 194 L1064.2 195.5 L1068.3 197.2 L1072.4 198.9 L1076.5 200.8 L1080.7 202.7 L1084.8 204.7 L1088.9 206.9 L1093 209.1 L1097.1 211.5 L1101.3 214 L1105.4 216.7 L1109.5 219.4 L1113.6 222.4 L1117.7 225.4 L1121.9 228.6 L1126 232 L1130.1 235.5 L1134.2 239.2 L1138.3 243.1 L1142.5 247.2 L1146.6 251.4 L1150.7 255.8 L1154.8 260.4 L1158.9 265.2 L1163.1 270.2 L1167.2 275.3 L1171.3 280.7 L1175.4 286.3 L1179.5 292.1 L1183.7 298 L1187.8 304.2 L1191.9 310.6 L1196 317.2 L1200.1 323.9 L1204.3 330.9 L1208.4 338 L1212.5 345.3 L1216.6 352.8 L1220.7 360.4 L1224.9 368.2 L1229 376.2 L1233.1 384.2 L1237.2 392.4 L1241.3 400.7 L1245.5 409 L1249.6 417.5 L1253.7 426 L1257.8 434.6 L1261.9 443.2 L1266.1 451.8 L1270.2 460.4 L1274.3 469 L1278.4 477.6 L1282.5 486.1 L1286.7 494.6 L1290.8 503 L1294.9 511.3 L1299 519.5 L1303.1 527.6 L1307.3 535.5 L1311.4 543.4 L1315.5 551 L1319.6 558.6 L1323.7 565.9 L1327.9 573.1 L1332 580.1 L1336.1 586.9 L1340.2 593.5 L1344.3 599.9 L1348.5 606.1 L1352.6 612.2 L1356.7 618 L1360.8 623.6 L1364.9 629.1 L1369.1 634.3 L1373.2 639.3 L1377.3 644.2 L1381.4 648.8" fill="none" stroke="#166b2a" stroke-width="9.5" stroke-linecap="round" stroke-linejoin="round"/>
<g fill="none" stroke="#7a1446" stroke-width="6.4">
<circle cx="890.8" cy="211" r="9.8"/>
<circle cx="994.6" cy="191.2" r="9.8"/>
<circle cx="1092.4" cy="191.2" r="5.5"/>
<circle cx="1125.6" cy="191" r="7.6"/>
<circle cx="1152.4" cy="190.6" r="10"/>
<circle cx="1157.2" cy="217" r="7.5"/>
<circle cx="1195.6" cy="218.8" r="7.8"/>
<circle cx="1060.6" cy="203.8" r="8.8"/>
<circle cx="1093" cy="250" r="7.6"/>
<circle cx="1196.8" cy="265.6" r="7.8"/>
<circle cx="1229.4" cy="227.8" r="7.6"/>
<circle cx="1238.8" cy="243.4" r="4.5"/>
<circle cx="1267" cy="247" r="7.6"/>
<circle cx="1139.2" cy="309.4" r="8.1"/>
</g>
<path d="M891.2 152.7 L895.3 153.5 L899.4 154.4 L903.5 155.2 L907.6 156 L911.8 156.9 L915.9 157.8 L920 158.6 L924.1 159.5 L928.2 160.4 L932.4 161.3 L936.5 162.2 L940.6 163.1 L944.7 164.1 L948.8 165 L953 166 L957.1 166.9 L961.2 167.9 L965.3 168.9 L969.4 169.9 L973.6 170.9 L977.7 171.9 L981.8 172.9 L985.9 173.9 L990 175 L994.2 176 L998.3 177.1 L1002.4 178.2 L1006.5 179.3 L1010.6 180.4 L1014.8 181.5 L1018.9 182.6 L1023 183.7 L1027.1 184.8 L1031.2 185.9 L1035.3 187 L1039.5 188.1 L1043.6 189.2 L1047.7 190.3 L1051.8 191.3 L1055.9 192.4 L1060.1 193.5 L1064.2 194.5 L1068.3 195.6 L1072.4 196.7 L1076.5 197.7 L1080.7 198.8 L1084.8 199.9 L1088.9 200.9 L1093 202 L1097.1 203.1 L1101.3 204.2 L1105.4 205.3 L1109.5 206.3 L1113.6 207.4 L1117.7 208.5 L1121.9 209.6 L1126 210.6 L1130.1 211.7 L1134.2 212.8 L1138.3 213.8 L1142.5 214.9 L1146.6 216 L1150.7 217.1 L1154.8 218.2 L1158.9 219.3 L1163.1 220.4 L1167.2 221.6 L1171.3 222.8 L1175.4 223.9 L1179.5 225.1 L1183.7 226.3 L1187.8 227.5 L1191.9 228.8 L1196 230 L1200.1 231.2 L1204.3 232.5 L1208.4 233.7 L1212.5 234.9 L1216.6 236.1 L1220.7 237.4 L1224.9 238.5 L1229 239.7 L1233.1 240.9 L1237.2 242 L1241.3 243.2 L1245.5 244.3 L1249.6 245.4 L1253.7 246.6 L1257.8 247.7 L1261.9 248.8 L1266.1 249.9 L1270.2 251.1 L1274.3 252.2 L1278.4 253.4 L1282.5 254.5 L1286.7 255.7 L1290.8 256.9 L1294.9 258 L1299 259.2 L1303.1 260.4 L1307.3 261.6 L1311.4 262.8 L1315.5 264 L1319.6 265.2 L1323.7 266.4 L1327.9 267.6 L1332 268.8 L1336.1 270 L1340.2 271.3 L1344.3 272.5 L1348.5 273.7 L1352.6 275 L1356.7 276.2 L1360.8 277.5 L1364.9 278.7 L1369.1 280 L1373.2 281.3 L1377.3 282.6 L1381.4 283.8 L1381.4 305.4 L1377.3 304.1 L1373.2 302.8 L1369.1 301.5 L1364.9 300.2 L1360.8 298.9 L1356.7 297.6 L1352.6 296.4 L1348.5 295.1 L1344.3 293.8 L1340.2 292.5 L1336.1 291.3 L1332 290 L1327.9 288.8 L1323.7 287.5 L1319.6 286.3 L1315.5 285.1 L1311.4 283.9 L1307.3 282.6 L1303.1 281.4 L1299 280.2 L1294.9 279 L1290.8 277.9 L1286.7 276.7 L1282.5 275.5 L1278.4 274.4 L1274.3 273.2 L1270.2 272.1 L1266.1 270.9 L1261.9 269.8 L1257.8 268.7 L1253.7 267.6 L1249.6 266.4 L1245.5 265.3 L1241.3 264.2 L1237.2 263 L1233.1 261.9 L1229 260.7 L1224.9 259.5 L1220.7 258.4 L1216.6 257.2 L1212.5 256 L1208.4 254.8 L1204.3 253.6 L1200.1 252.4 L1196 251.2 L1191.9 250 L1187.8 248.9 L1183.7 247.7 L1179.5 246.5 L1175.4 245.4 L1171.3 244.2 L1167.2 243.1 L1163.1 242 L1158.9 240.9 L1154.8 239.8 L1150.7 238.8 L1146.6 237.7 L1142.5 236.7 L1138.3 235.6 L1134.2 234.6 L1130.1 233.6 L1126 232.5 L1121.9 231.5 L1117.7 230.5 L1113.6 229.5 L1109.5 228.5 L1105.4 227.6 L1101.3 226.6 L1097.1 225.6 L1093 224.7 L1088.9 223.7 L1084.8 222.8 L1080.7 221.8 L1076.5 220.9 L1072.4 219.9 L1068.3 219 L1064.2 218 L1060.1 217.1 L1055.9 216.1 L1051.8 215.2 L1047.7 214.2 L1043.6 213.3 L1039.5 212.3 L1035.3 211.3 L1031.2 210.3 L1027.1 209.4 L1023 208.4 L1018.9 207.4 L1014.8 206.4 L1010.6 205.4 L1006.5 204.5 L1002.4 203.6 L998.3 202.6 L994.2 201.7 L990 200.9 L985.9 200 L981.8 199.1 L977.7 198.3 L973.6 197.4 L969.4 196.6 L965.3 195.8 L961.2 195 L957.1 194.2 L953 193.4 L948.8 192.6 L944.7 191.8 L940.6 191.1 L936.5 190.3 L932.4 189.6 L928.2 188.9 L924.1 188.1 L920 187.4 L915.9 186.7 L911.8 186 L907.6 185.4 L903.5 184.7 L899.4 184 L895.3 183.4 L891.2 182.7Z" fill="#7a1446" fill-opacity="0.5" stroke="none"/>
<path d="M891.2 167.7 L895.3 168.4 L899.4 169.2 L903.5 169.9 L907.6 170.7 L911.8 171.5 L915.9 172.2 L920 173 L924.1 173.8 L928.2 174.6 L932.4 175.4 L936.5 176.3 L940.6 177.1 L944.7 177.9 L948.8 178.8 L953 179.7 L957.1 180.5 L961.2 181.4 L965.3 182.3 L969.4 183.2 L973.6 184.1 L977.7 185.1 L981.8 186 L985.9 187 L990 187.9 L994.2 188.9 L998.3 189.9 L1002.4 190.9 L1006.5 191.9 L1010.6 192.9 L1014.8 194 L1018.9 195 L1023 196 L1027.1 197.1 L1031.2 198.1 L1035.3 199.2 L1039.5 200.2 L1043.6 201.2 L1047.7 202.2 L1051.8 203.2 L1055.9 204.3 L1060.1 205.3 L1064.2 206.3 L1068.3 207.3 L1072.4 208.3 L1076.5 209.3 L1080.7 210.3 L1084.8 211.3 L1088.9 212.3 L1093 213.4 L1097.1 214.4 L1101.3 215.4 L1105.4 216.4 L1109.5 217.4 L1113.6 218.5 L1117.7 219.5 L1121.9 220.5 L1126 221.6 L1130.1 222.6 L1134.2 223.7 L1138.3 224.7 L1142.5 225.8 L1146.6 226.9 L1150.7 227.9 L1154.8 229 L1158.9 230.1 L1163.1 231.2 L1167.2 232.3 L1171.3 233.5 L1175.4 234.6 L1179.5 235.8 L1183.7 237 L1187.8 238.2 L1191.9 239.4 L1196 240.6 L1200.1 241.8 L1204.3 243 L1208.4 244.2 L1212.5 245.5 L1216.6 246.7 L1220.7 247.9 L1224.9 249 L1229 250.2 L1233.1 251.4 L1237.2 252.5 L1241.3 253.7 L1245.5 254.8 L1249.6 255.9 L1253.7 257.1 L1257.8 258.2 L1261.9 259.3 L1266.1 260.4 L1270.2 261.6 L1274.3 262.7 L1278.4 263.9 L1282.5 265 L1286.7 266.2 L1290.8 267.4 L1294.9 268.5 L1299 269.7 L1303.1 270.9 L1307.3 272.1 L1311.4 273.3 L1315.5 274.5 L1319.6 275.7 L1323.7 277 L1327.9 278.2 L1332 279.4 L1336.1 280.7 L1340.2 281.9 L1344.3 283.2 L1348.5 284.4 L1352.6 285.7 L1356.7 286.9 L1360.8 288.2 L1364.9 289.5 L1369.1 290.8 L1373.2 292 L1377.3 293.3 L1381.4 294.6" fill="none" stroke="#7a1446" stroke-width="9.5" stroke-linecap="round" stroke-linejoin="round"/>
</g>
<rect x="859.2" y="80.4" width="565.8" height="768.1" fill="none" stroke="#000" stroke-width="3.3" stroke-linejoin="round"/>
<path d="M906.4 848.5 V869.1 M1011.1 848.5 V869.1 M1115.9 848.5 V869.1 M1220.7 848.5 V869.1 M1325.5 848.5 V869.1 M859.2 738 H838.6 M859.2 628.6 H838.6 M859.2 519.2 H838.6 M859.2 409.7 H838.6 M859.2 300.3 H838.6 M859.2 190.9 H838.6" fill="none" stroke="#000" stroke-width="3.3" stroke-linecap="round"/>
<g font-size="43.5" text-anchor="middle" fill="#000">
<text transform="translate(906.4 922.4) scale(1 1.075)">10</text>
<text transform="translate(1011.1 922.4) scale(1 1.075)">8</text>
<text transform="translate(1115.9 922.4) scale(1 1.075)">6</text>
<text transform="translate(1220.7 922.4) scale(1 1.075)">4</text>
<text transform="translate(1325.5 922.4) scale(1 1.075)">2</text>
<text transform="translate(810.4 738) rotate(-90) scale(1 1.075)">0.0</text>
<text transform="translate(810.4 628.6) rotate(-90) scale(1 1.075)">0.2</text>
<text transform="translate(810.4 519.2) rotate(-90) scale(1 1.075)">0.4</text>
<text transform="translate(810.4 409.7) rotate(-90) scale(1 1.075)">0.6</text>
<text transform="translate(810.4 300.3) rotate(-90) scale(1 1.075)">0.8</text>
<text transform="translate(810.4 190.9) rotate(-90) scale(1 1.075)">1.0</text>
</g>
<g clip-path="url(#clip2)">
<g fill="none" stroke="#2a1480" stroke-width="6.4">
<circle cx="1736.7" cy="191" r="26.8"/>
<circle cx="1739.8" cy="189.8" r="12.3"/>
<circle cx="1737.6" cy="190.3" r="6.3"/>
<circle cx="1742.6" cy="190.5" r="9.1"/>
<circle cx="1781.4" cy="191" r="0.3"/>
<circle cx="1786.9" cy="188.3" r="9.6"/>
<circle cx="1812" cy="191.8" r="0.4"/>
<circle cx="1836.6" cy="190.6" r="1.9"/>
<circle cx="1795.2" cy="251.2" r="4.8"/>
<circle cx="1788" cy="273.4" r="3.4"/>
<circle cx="1792.8" cy="233.2" r="5.8"/>
<circle cx="1858.8" cy="223.6" r="2.8"/>
<circle cx="1870.8" cy="234.4" r="7"/>
<circle cx="1889.8" cy="191.2" r="2.8"/>
<circle cx="1899.4" cy="191.2" r="2.2"/>
<circle cx="1922.8" cy="221.2" r="3.4"/>
<circle cx="1903.6" cy="234.4" r="4"/>
<circle cx="1955.2" cy="238.6" r="3.4"/>
<circle cx="1987.8" cy="243.2" r="5.7"/>
<circle cx="1787.8" cy="273.6" r="3.5"/>
<circle cx="1814" cy="281.1" r="6.3"/>
<circle cx="1833.4" cy="280.8" r="9.9"/>
<circle cx="1919.6" cy="276.4" r="3.9"/>
<circle cx="1939.5" cy="278.8" r="8.4"/>
<circle cx="1948.6" cy="278.8" r="2.2"/>
<circle cx="1969" cy="286.9" r="9.9"/>
<circle cx="1987.1" cy="309.6" r="10.7"/>
<circle cx="1965.9" cy="313.8" r="3.6"/>
<circle cx="2020.7" cy="338.6" r="3.6"/>
<circle cx="2037" cy="356.3" r="3.8"/>
<circle cx="1845.6" cy="329.1" r="5.6"/>
<circle cx="1895.6" cy="314.1" r="7"/>
<circle cx="1916.6" cy="303.9" r="6.3"/>
<circle cx="1937.7" cy="331.1" r="7.7"/>
<circle cx="1910.5" cy="338.6" r="6.3"/>
<circle cx="1872.4" cy="328.4" r="4.3"/>
<circle cx="1882.6" cy="340.4" r="3.3"/>
<circle cx="1842.9" cy="352.6" r="2.9"/>
<circle cx="1804" cy="362.8" r="3.3"/>
<circle cx="1851.4" cy="365.8" r="8.2"/>
<circle cx="1886.4" cy="361" r="9.4"/>
<circle cx="1922.1" cy="374" r="3.6"/>
<circle cx="1884" cy="399.2" r="4.5"/>
<circle cx="1909.2" cy="412" r="1.9"/>
<circle cx="1961.2" cy="427.3" r="5.3"/>
<circle cx="1985.3" cy="421.9" r="3.6"/>
<circle cx="2026.1" cy="420.8" r="6"/>
<circle cx="2049.9" cy="431.8" r="1.9"/>
<circle cx="1999.6" cy="452.1" r="6"/>
<circle cx="1981.5" cy="466.4" r="2.9"/>
<circle cx="2007.8" cy="434.1" r="8.4"/>
<circle cx="1999.6" cy="437.5" r="2.9"/>
<circle cx="2028.2" cy="468.1" r="2.9"/>
<circle cx="2042" cy="381.1" r="8.4"/>
<circle cx="1958.8" cy="371.6" r="3.6"/>
<circle cx="2020.3" cy="495.9" r="2.7"/>
<circle cx="2055.1" cy="507.4" r="9.9"/>
<circle cx="2050.7" cy="506.5" r="6.5"/>
<circle cx="2071.1" cy="528.7" r="3"/>
<circle cx="2039.2" cy="529.6" r="3"/>
<circle cx="2047.2" cy="536.1" r="3.4"/>
<circle cx="2059.6" cy="551.7" r="5.2"/>
<circle cx="2014.9" cy="552.2" r="1.8"/>
<circle cx="1955.5" cy="521.9" r="2.8"/>
<circle cx="2024.5" cy="582.3" r="6.1"/>
<circle cx="2064.9" cy="585.8" r="3.9"/>
<circle cx="1980.9" cy="364.9" r="14.5"/>
<circle cx="1980.9" cy="364.9" r="8.7"/>
<circle cx="1980.9" cy="364.9" r="3"/>
<circle cx="1975.6" cy="348.9" r="3"/>
<circle cx="2001.2" cy="358.7" r="3.4"/>
<circle cx="1959.6" cy="359.6" r="6.5"/>
<circle cx="1789.1" cy="188.5" r="5.3"/>
<circle cx="1939.5" cy="278.8" r="3.6"/>
<circle cx="2007.8" cy="434.1" r="3.6"/>
<circle cx="2007.8" cy="434.1" r="0.3"/>
<circle cx="1777.9" cy="189.8" r="10.1"/>
<circle cx="1792.8" cy="233.2" r="1"/>
<circle cx="1943.5" cy="252.6" r="3"/>
<circle cx="1940.2" cy="260.1" r="3.8"/>
<circle cx="1865.6" cy="238.5" r="4.3"/>
</g>
<path d="M1579.6 145.7 L1583.7 146.7 L1587.8 147.7 L1591.9 148.7 L1596 149.7 L1600.2 150.7 L1604.3 151.8 L1608.4 152.8 L1612.5 153.9 L1616.6 155 L1620.8 156.1 L1624.9 157.2 L1629 158.3 L1633.1 159.4 L1637.2 160.6 L1641.4 161.8 L1645.5 162.9 L1649.6 164.1 L1653.7 165.3 L1657.8 166.6 L1662 167.8 L1666.1 169.1 L1670.2 170.4 L1674.3 171.7 L1678.4 173 L1682.6 174.3 L1686.7 175.7 L1690.8 177 L1694.9 178.4 L1699 179.8 L1703.2 181.3 L1707.3 182.7 L1711.4 184.2 L1715.5 185.7 L1719.6 187.2 L1723.7 188.8 L1727.9 190.3 L1732 191.9 L1736.1 193.5 L1740.2 195.2 L1744.3 196.9 L1748.5 198.6 L1752.6 200.3 L1756.7 202 L1760.8 203.8 L1764.9 205.6 L1769.1 207.4 L1773.2 209.3 L1777.3 211.2 L1781.4 213.1 L1785.5 215.1 L1789.7 217.1 L1793.8 219.1 L1797.9 221.2 L1802 223.3 L1806.1 225.4 L1810.3 227.6 L1814.4 229.8 L1818.5 232.1 L1822.6 234.4 L1826.7 236.8 L1830.9 239.2 L1835 241.6 L1839.1 244.1 L1843.2 246.6 L1847.3 249.2 L1851.5 251.8 L1855.6 254.5 L1859.7 257.2 L1863.8 260 L1867.9 262.9 L1872.1 265.8 L1876.2 268.8 L1880.3 271.8 L1884.4 274.9 L1888.5 278.1 L1892.7 281.3 L1896.8 284.6 L1900.9 288 L1905 291.5 L1909.1 295 L1913.3 298.6 L1917.4 302.4 L1921.5 306.2 L1925.6 310 L1929.7 314 L1933.9 318.1 L1938 322.3 L1942.1 326.6 L1946.2 331 L1950.3 335.5 L1954.5 340.1 L1958.6 344.9 L1962.7 349.8 L1966.8 354.8 L1970.9 360 L1975.1 365.3 L1979.2 370.7 L1983.3 376.4 L1987.4 382.1 L1991.5 388.1 L1995.7 394.2 L1999.8 400.6 L2003.9 407.1 L2008 413.8 L2012.1 420.7 L2016.3 427.7 L2020.4 435 L2024.5 442.5 L2028.6 450.3 L2032.7 458.3 L2036.9 466.6 L2041 475.2 L2045.1 484.2 L2049.2 493.4 L2053.3 503 L2057.5 512.9 L2061.6 523.2 L2065.7 534 L2069.8 545.2 L2069.8 553.2 L2065.7 542 L2061.6 531.2 L2057.5 520.9 L2053.3 511 L2049.2 501.4 L2045.1 492.2 L2041 483.2 L2036.9 474.6 L2032.7 466.3 L2028.6 458.3 L2024.5 450.5 L2020.4 443 L2016.3 435.7 L2012.1 428.7 L2008 421.8 L2003.9 415.1 L1999.8 408.6 L1995.7 402.2 L1991.5 396.1 L1987.4 390.1 L1983.3 384.4 L1979.2 378.7 L1975.1 373.3 L1970.9 368 L1966.8 362.8 L1962.7 357.8 L1958.6 352.9 L1954.5 348.1 L1950.3 343.5 L1946.2 339 L1942.1 334.6 L1938 330.3 L1933.9 326.1 L1929.7 322 L1925.6 318 L1921.5 314.2 L1917.4 310.4 L1913.3 306.6 L1909.1 303 L1905 299.5 L1900.9 296 L1896.8 292.6 L1892.7 289.3 L1888.5 286.1 L1884.4 282.9 L1880.3 279.8 L1876.2 276.8 L1872.1 273.8 L1867.9 270.9 L1863.8 268 L1859.7 265.2 L1855.6 262.5 L1851.5 259.8 L1847.3 257.2 L1843.2 254.6 L1839.1 252.1 L1835 249.6 L1830.9 247.2 L1826.7 244.8 L1822.6 242.4 L1818.5 240.1 L1814.4 237.8 L1810.3 235.6 L1806.1 233.4 L1802 231.3 L1797.9 229.2 L1793.8 227.1 L1789.7 225.1 L1785.5 223.1 L1781.4 221.1 L1777.3 219.2 L1773.2 217.3 L1769.1 215.4 L1764.9 213.6 L1760.8 211.8 L1756.7 210 L1752.6 208.3 L1748.5 206.6 L1744.3 204.9 L1740.2 203.2 L1736.1 201.5 L1732 199.9 L1727.9 198.3 L1723.7 196.8 L1719.6 195.2 L1715.5 193.7 L1711.4 192.2 L1707.3 190.7 L1703.2 189.3 L1699 187.8 L1694.9 186.4 L1690.8 185 L1686.7 183.7 L1682.6 182.3 L1678.4 181 L1674.3 179.7 L1670.2 178.4 L1666.1 177.1 L1662 175.8 L1657.8 174.6 L1653.7 173.3 L1649.6 172.1 L1645.5 170.9 L1641.4 169.8 L1637.2 168.6 L1633.1 167.4 L1629 166.3 L1624.9 165.2 L1620.8 164.1 L1616.6 163 L1612.5 161.9 L1608.4 160.8 L1604.3 159.8 L1600.2 158.7 L1596 157.7 L1591.9 156.7 L1587.8 155.7 L1583.7 154.7 L1579.6 153.7Z" fill="#2a1480" fill-opacity="0.5" stroke="none"/>
<path d="M1579.6 149.7 L1583.7 150.7 L1587.8 151.7 L1591.9 152.7 L1596 153.7 L1600.2 154.7 L1604.3 155.8 L1608.4 156.8 L1612.5 157.9 L1616.6 159 L1620.8 160.1 L1624.9 161.2 L1629 162.3 L1633.1 163.4 L1637.2 164.6 L1641.4 165.8 L1645.5 166.9 L1649.6 168.1 L1653.7 169.3 L1657.8 170.6 L1662 171.8 L1666.1 173.1 L1670.2 174.4 L1674.3 175.7 L1678.4 177 L1682.6 178.3 L1686.7 179.7 L1690.8 181 L1694.9 182.4 L1699 183.8 L1703.2 185.3 L1707.3 186.7 L1711.4 188.2 L1715.5 189.7 L1719.6 191.2 L1723.7 192.8 L1727.9 194.3 L1732 195.9 L1736.1 197.5 L1740.2 199.2 L1744.3 200.9 L1748.5 202.6 L1752.6 204.3 L1756.7 206 L1760.8 207.8 L1764.9 209.6 L1769.1 211.4 L1773.2 213.3 L1777.3 215.2 L1781.4 217.1 L1785.5 219.1 L1789.7 221.1 L1793.8 223.1 L1797.9 225.2 L1802 227.3 L1806.1 229.4 L1810.3 231.6 L1814.4 233.8 L1818.5 236.1 L1822.6 238.4 L1826.7 240.8 L1830.9 243.2 L1835 245.6 L1839.1 248.1 L1843.2 250.6 L1847.3 253.2 L1851.5 255.8 L1855.6 258.5 L1859.7 261.2 L1863.8 264 L1867.9 266.9 L1872.1 269.8 L1876.2 272.8 L1880.3 275.8 L1884.4 278.9 L1888.5 282.1 L1892.7 285.3 L1896.8 288.6 L1900.9 292 L1905 295.5 L1909.1 299 L1913.3 302.6 L1917.4 306.4 L1921.5 310.2 L1925.6 314 L1929.7 318 L1933.9 322.1 L1938 326.3 L1942.1 330.6 L1946.2 335 L1950.3 339.5 L1954.5 344.1 L1958.6 348.9 L1962.7 353.8 L1966.8 358.8 L1970.9 364 L1975.1 369.3 L1979.2 374.7 L1983.3 380.4 L1987.4 386.1 L1991.5 392.1 L1995.7 398.2 L1999.8 404.6 L2003.9 411.1 L2008 417.8 L2012.1 424.7 L2016.3 431.7 L2020.4 439 L2024.5 446.5 L2028.6 454.3 L2032.7 462.3 L2036.9 470.6 L2041 479.2 L2045.1 488.2 L2049.2 497.4 L2053.3 507 L2057.5 516.9 L2061.6 527.2 L2065.7 538 L2069.8 549.2" fill="none" stroke="#2a1480" stroke-width="9.5" stroke-linecap="round" stroke-linejoin="round"/>
<g fill="none" stroke="#166b2a" stroke-width="6.4">
<circle cx="1579.8" cy="191.2" r="34.1"/>
<circle cx="1682.9" cy="211.4" r="32.5"/>
<circle cx="1748.4" cy="211.2" r="32.2"/>
<circle cx="1780.2" cy="189.6" r="24.6"/>
<circle cx="1780.2" cy="189.6" r="20.2"/>
<circle cx="1813.4" cy="207" r="20.8"/>
<circle cx="1840.8" cy="239.2" r="6.4"/>
<circle cx="1826.9" cy="277.4" r="27.7"/>
<circle cx="1884.7" cy="287.6" r="19.9"/>
<circle cx="1845.9" cy="318.2" r="20.6"/>
<circle cx="1885" cy="345.8" r="24.3"/>
<circle cx="1927.8" cy="337.9" r="25.5"/>
<circle cx="1918.3" cy="376" r="20.3"/>
<circle cx="1955.4" cy="489.9" r="20.6"/>
</g>
<path d="M1579.6 75.1 L1583.7 77.7 L1587.8 80.3 L1591.9 82.9 L1596 85.6 L1600.2 88.2 L1604.3 90.9 L1608.4 93.6 L1612.5 96.3 L1616.6 99.1 L1620.8 101.8 L1624.9 104.6 L1629 107.4 L1633.1 110.3 L1637.2 113.1 L1641.4 115.6 L1645.5 118.2 L1649.6 120.7 L1653.7 123.3 L1657.8 125.9 L1662 128.6 L1666.1 131.3 L1670.2 133.9 L1674.3 136.7 L1678.4 139.4 L1682.6 142.2 L1686.7 144.9 L1690.8 147.6 L1694.9 150.4 L1699 153.2 L1703.2 156 L1707.3 158.8 L1711.4 161.7 L1715.5 164.6 L1719.6 167.5 L1723.7 170.6 L1727.9 173.8 L1732 177 L1736.1 180.3 L1740.2 183.6 L1744.3 186.9 L1748.5 190.2 L1752.6 193.6 L1756.7 197 L1760.8 200.4 L1764.9 203.9 L1769.1 207.4 L1773.2 210.9 L1777.3 214.5 L1781.4 218.2 L1785.5 221.9 L1789.7 225.7 L1793.8 229.6 L1797.9 233.5 L1802 237.5 L1806.1 241.5 L1810.3 245.4 L1814.4 249.4 L1818.5 253.4 L1822.6 257.4 L1826.7 261.4 L1830.9 265.4 L1835 269.4 L1839.1 273.4 L1843.2 277.5 L1847.3 281.6 L1851.5 285.8 L1855.6 290 L1859.7 294.4 L1863.8 298.8 L1867.9 303.4 L1872.1 307.9 L1876.2 312.5 L1880.3 317.2 L1884.4 321.9 L1888.5 326.7 L1892.7 331.5 L1896.8 336.4 L1900.9 341.3 L1905 346.3 L1909.1 351.4 L1913.3 356.4 L1917.4 361.5 L1921.5 366.6 L1925.6 371.8 L1929.7 377.1 L1933.9 382.4 L1938 387.9 L1942.1 393.4 L1946.2 399.1 L1950.3 404.8 L1954.5 410.6 L1958.6 416.5 L1962.7 422.5 L1966.8 428.6 L1970.9 434.8 L1975.1 441.1 L1979.2 447.5 L1983.3 454 L1987.4 460.6 L1991.5 467.1 L1995.7 473.8 L1999.8 480.6 L2003.9 487.4 L2008 494.4 L2012.1 501.5 L2016.3 508.7 L2020.4 515.9 L2024.5 523.3 L2028.6 530.7 L2032.7 538.3 L2036.9 546 L2041 553.8 L2045.1 561.7 L2049.2 569.7 L2053.3 577.9 L2057.5 586.1 L2061.6 594.5 L2065.7 603.1 L2069.8 611.7 L2069.8 624.7 L2065.7 616.2 L2061.6 607.8 L2057.5 599.6 L2053.3 591.5 L2049.2 583.5 L2045.1 575.6 L2041 567.8 L2036.9 560.2 L2032.7 552.7 L2028.6 545.2 L2024.5 537.9 L2020.4 530.7 L2016.3 523.6 L2012.1 516.6 L2008 509.7 L2003.9 502.8 L1999.8 496.1 L1995.7 489.5 L1991.5 483 L1987.4 476.6 L1983.3 470.3 L1979.2 464 L1975.1 457.9 L1970.9 451.9 L1966.8 445.9 L1962.7 440.1 L1958.6 434.4 L1954.5 428.7 L1950.3 423.2 L1946.2 417.7 L1942.1 412.3 L1938 407.1 L1933.9 401.9 L1929.7 396.8 L1925.6 391.8 L1921.5 386.8 L1917.4 381.9 L1913.3 377.1 L1909.1 372.4 L1905 367.6 L1900.9 362.9 L1896.8 358.3 L1892.7 353.8 L1888.5 349.2 L1884.4 344.8 L1880.3 340.4 L1876.2 336 L1872.1 331.7 L1867.9 327.5 L1863.8 323.3 L1859.7 319.1 L1855.6 315 L1851.5 311 L1847.3 307 L1843.2 303 L1839.1 299.1 L1835 295.2 L1830.9 291.4 L1826.7 287.5 L1822.6 283.7 L1818.5 279.9 L1814.4 276 L1810.3 272.2 L1806.1 268.4 L1802 264.7 L1797.9 261.1 L1793.8 257.5 L1789.7 253.9 L1785.5 250.5 L1781.4 247.1 L1777.3 243.8 L1773.2 240.5 L1769.1 237.3 L1764.9 234.2 L1760.8 231.1 L1756.7 228 L1752.6 224.9 L1748.5 221.9 L1744.3 218.9 L1740.2 215.9 L1736.1 213 L1732 210.1 L1727.9 207.2 L1723.7 204.4 L1719.6 201.6 L1715.5 198.9 L1711.4 196.2 L1707.3 193.6 L1703.2 190.9 L1699 188.4 L1694.9 185.8 L1690.8 183.3 L1686.7 180.8 L1682.6 178.3 L1678.4 175.8 L1674.3 173.4 L1670.2 171 L1666.1 168.6 L1662 166.3 L1657.8 163.9 L1653.7 161.6 L1649.6 159.3 L1645.5 157.1 L1641.4 154.8 L1637.2 152.6 L1633.1 150.3 L1629 147.9 L1624.9 145.6 L1620.8 143.2 L1616.6 140.9 L1612.5 138.6 L1608.4 136.4 L1604.3 134.1 L1600.2 131.9 L1596 129.7 L1591.9 127.5 L1587.8 125.4 L1583.7 123.2 L1579.6 121.1Z" fill="#166b2a" fill-opacity="0.5" stroke="none"/>
<path d="M1579.6 99.1 L1583.7 101.2 L1587.8 103.4 L1591.9 105.6 L1596 107.8 L1600.2 110.1 L1604.3 112.3 L1608.4 114.6 L1612.5 116.9 L1616.6 119.2 L1620.8 121.5 L1624.9 123.9 L1629 126.2 L1633.1 128.6 L1637.2 131.1 L1641.4 133.5 L1645.5 136 L1649.6 138.5 L1653.7 141 L1657.8 143.5 L1662 146.1 L1666.1 148.6 L1670.2 151.2 L1674.3 153.9 L1678.4 156.5 L1682.6 159.2 L1686.7 161.9 L1690.8 164.6 L1694.9 167.4 L1699 170.2 L1703.2 173 L1707.3 175.8 L1711.4 178.7 L1715.5 181.6 L1719.6 184.5 L1723.7 187.5 L1727.9 190.5 L1732 193.5 L1736.1 196.5 L1740.2 199.6 L1744.3 202.7 L1748.5 205.9 L1752.6 209 L1756.7 212.3 L1760.8 215.5 L1764.9 218.8 L1769.1 222.1 L1773.2 225.4 L1777.3 228.8 L1781.4 232.3 L1785.5 235.8 L1789.7 239.4 L1793.8 243.1 L1797.9 246.8 L1802 250.6 L1806.1 254.5 L1810.3 258.3 L1814.4 262.2 L1818.5 266.1 L1822.6 270 L1826.7 274 L1830.9 277.9 L1835 281.8 L1839.1 285.8 L1843.2 289.8 L1847.3 293.8 L1851.5 297.9 L1855.6 302 L1859.7 306.2 L1863.8 310.4 L1867.9 314.7 L1872.1 319 L1876.2 323.4 L1880.3 327.8 L1884.4 332.3 L1888.5 336.9 L1892.7 341.4 L1896.8 346.1 L1900.9 350.8 L1905 355.5 L1909.1 360.4 L1913.3 365.2 L1917.4 370.2 L1921.5 375.1 L1925.6 380.2 L1929.7 385.3 L1933.9 390.5 L1938 395.8 L1942.1 401.2 L1946.2 406.6 L1950.3 412.2 L1954.5 417.9 L1958.6 423.6 L1962.7 429.5 L1966.8 435.4 L1970.9 441.4 L1975.1 447.6 L1979.2 453.8 L1983.3 460.1 L1987.4 466.6 L1991.5 473.1 L1995.7 479.7 L1999.8 486.4 L2003.9 493.2 L2008 500.2 L2012.1 507.2 L2016.3 514.3 L2020.4 521.5 L2024.5 528.8 L2028.6 536.2 L2032.7 543.7 L2036.9 551.4 L2041 559.1 L2045.1 567 L2049.2 575 L2053.3 583.1 L2057.5 591.3 L2061.6 599.6 L2065.7 608.1 L2069.8 616.7" fill="none" stroke="#166b2a" stroke-width="9.5" stroke-linecap="round" stroke-linejoin="round"/>
<g fill="none" stroke="#7a1446" stroke-width="6.4">
<circle cx="1579.2" cy="211" r="9.8"/>
<circle cx="1683" cy="191.2" r="9.8"/>
<circle cx="1780.8" cy="191.2" r="5.5"/>
<circle cx="1814" cy="191" r="7.6"/>
<circle cx="1840.8" cy="190.6" r="10"/>
<circle cx="1845.6" cy="217" r="7.5"/>
<circle cx="1884" cy="218.8" r="7.8"/>
<circle cx="1749" cy="203.8" r="8.8"/>
<circle cx="1781.4" cy="250" r="7.6"/>
<circle cx="1885.2" cy="265.6" r="7.8"/>
<circle cx="1917.8" cy="227.8" r="7.6"/>
<circle cx="1927.2" cy="243.4" r="4.5"/>
<circle cx="1955.4" cy="247" r="7.6"/>
<circle cx="1827.6" cy="309.4" r="8.1"/>
</g>
<path d="M1579.6 174.4 L1583.7 174.8 L1587.8 175.1 L1591.9 175.5 L1596 175.8 L1600.2 176.2 L1604.3 176.6 L1608.4 177 L1612.5 177.4 L1616.6 177.8 L1620.8 178.2 L1624.9 178.6 L1629 179 L1633.1 179.4 L1637.2 179.8 L1641.4 180.2 L1645.5 180.7 L1649.6 181.1 L1653.7 181.6 L1657.8 182 L1662 182.5 L1666.1 182.9 L1670.2 183.4 L1674.3 183.9 L1678.4 184.4 L1682.6 184.9 L1686.7 185.4 L1690.8 185.9 L1694.9 186.4 L1699 187 L1703.2 187.5 L1707.3 188.1 L1711.4 188.6 L1715.5 189.2 L1719.6 189.8 L1723.7 190.4 L1727.9 191 L1732 191.6 L1736.1 192.2 L1740.2 192.8 L1744.3 193.5 L1748.5 194.1 L1752.6 194.8 L1756.7 195.5 L1760.8 196.2 L1764.9 196.9 L1769.1 197.6 L1773.2 198.3 L1777.3 199.1 L1781.4 199.8 L1785.5 200.6 L1789.7 201.4 L1793.8 202.2 L1797.9 203 L1802 203.9 L1806.1 204.7 L1810.3 205.6 L1814.4 206.5 L1818.5 207.4 L1822.6 208.4 L1826.7 209.4 L1830.9 210.4 L1835 211.4 L1839.1 212.4 L1843.2 213.5 L1847.3 214.6 L1851.5 215.7 L1855.6 216.9 L1859.7 218.1 L1863.8 219.3 L1867.9 220.6 L1872.1 221.9 L1876.2 223.3 L1880.3 224.6 L1884.4 226.1 L1888.5 227.5 L1892.7 229 L1896.8 230.6 L1900.9 232.2 L1905 233.8 L1909.1 235.5 L1913.3 237.3 L1917.4 239.2 L1921.5 241.1 L1925.6 243.1 L1929.7 245.1 L1933.9 247.2 L1938 249.4 L1942.1 251.7 L1946.2 254.1 L1950.3 256.5 L1954.5 259 L1958.6 261.7 L1962.7 264.4 L1966.8 267.4 L1970.9 270.4 L1975.1 273.6 L1979.2 276.9 L1983.3 280.4 L1987.4 284 L1991.5 287.7 L1995.7 291.7 L1999.8 295.8 L2003.9 300.2 L2008 304.8 L2012.1 309.6 L2016.3 314.7 L2020.4 320.1 L2024.5 325.8 L2028.6 332 L2032.7 338.5 L2036.9 345.5 L2041 352.9 L2045.1 360.8 L2049.2 369.2 L2053.3 378.3 L2057.5 388.1 L2061.6 398.7 L2065.7 410.1 L2069.8 422.6 L2069.8 432.6 L2065.7 420.4 L2061.6 409.3 L2057.5 399 L2053.3 389.5 L2049.2 380.7 L2045.1 372.5 L2041 364.9 L2036.9 357.8 L2032.7 351.2 L2028.6 344.9 L2024.5 339.1 L2020.4 333.6 L2016.3 328.5 L2012.1 323.7 L2008 319.1 L2003.9 314.8 L1999.8 310.6 L1995.7 306.7 L1991.5 303 L1987.4 299.5 L1983.3 296.1 L1979.2 292.9 L1975.1 289.8 L1970.9 286.9 L1966.8 284.1 L1962.7 281.4 L1958.6 278.8 L1954.5 276.3 L1950.3 273.9 L1946.2 271.6 L1942.1 269.4 L1938 267.3 L1933.9 265.3 L1929.7 263.3 L1925.6 261.4 L1921.5 259.6 L1917.4 257.9 L1913.3 256.2 L1909.1 254.5 L1905 252.9 L1900.9 251.4 L1896.8 249.9 L1892.7 248.5 L1888.5 247.1 L1884.4 245.8 L1880.3 244.5 L1876.2 243.2 L1872.1 242 L1867.9 240.8 L1863.8 239.6 L1859.7 238.5 L1855.6 237.4 L1851.5 236.3 L1847.3 235.2 L1843.2 234.2 L1839.1 233.2 L1835 232.2 L1830.9 231.2 L1826.7 230.3 L1822.6 229.4 L1818.5 228.5 L1814.4 227.6 L1810.3 226.8 L1806.1 226 L1802 225.1 L1797.9 224.4 L1793.8 223.6 L1789.7 222.8 L1785.5 222.1 L1781.4 221.4 L1777.3 220.7 L1773.2 220 L1769.1 219.3 L1764.9 218.7 L1760.8 218 L1756.7 217.4 L1752.6 216.8 L1748.5 216.2 L1744.3 215.6 L1740.2 215 L1736.1 214.4 L1732 213.9 L1727.9 213.3 L1723.7 212.8 L1719.6 212.3 L1715.5 211.7 L1711.4 211.2 L1707.3 210.7 L1703.2 210.2 L1699 209.8 L1694.9 209.3 L1690.8 208.8 L1686.7 208.4 L1682.6 207.9 L1678.4 207.5 L1674.3 207.1 L1670.2 206.7 L1666.1 206.2 L1662 205.8 L1657.8 205.4 L1653.7 205 L1649.6 204.7 L1645.5 204.3 L1641.4 203.9 L1637.2 203.5 L1633.1 203.2 L1629 202.8 L1624.9 202.5 L1620.8 202.1 L1616.6 201.8 L1612.5 201.5 L1608.4 201.1 L1604.3 200.8 L1600.2 200.5 L1596 200.2 L1591.9 199.9 L1587.8 199.6 L1583.7 199.3 L1579.6 199Z" fill="#7a1446" fill-opacity="0.5" stroke="none"/>
<path d="M1579.6 186.7 L1583.7 187 L1587.8 187.4 L1591.9 187.7 L1596 188 L1600.2 188.4 L1604.3 188.7 L1608.4 189.1 L1612.5 189.4 L1616.6 189.8 L1620.8 190.1 L1624.9 190.5 L1629 190.9 L1633.1 191.3 L1637.2 191.7 L1641.4 192.1 L1645.5 192.5 L1649.6 192.9 L1653.7 193.3 L1657.8 193.7 L1662 194.2 L1666.1 194.6 L1670.2 195 L1674.3 195.5 L1678.4 195.9 L1682.6 196.4 L1686.7 196.9 L1690.8 197.4 L1694.9 197.9 L1699 198.4 L1703.2 198.9 L1707.3 199.4 L1711.4 199.9 L1715.5 200.5 L1719.6 201 L1723.7 201.6 L1727.9 202.1 L1732 202.7 L1736.1 203.3 L1740.2 203.9 L1744.3 204.5 L1748.5 205.2 L1752.6 205.8 L1756.7 206.5 L1760.8 207.1 L1764.9 207.8 L1769.1 208.5 L1773.2 209.2 L1777.3 209.9 L1781.4 210.7 L1785.5 211.4 L1789.7 212.2 L1793.8 213 L1797.9 213.8 L1802 214.6 L1806.1 215.5 L1810.3 216.3 L1814.4 217.2 L1818.5 218.1 L1822.6 219.1 L1826.7 220 L1830.9 221 L1835 222 L1839.1 223 L1843.2 224.1 L1847.3 225.1 L1851.5 226.3 L1855.6 227.4 L1859.7 228.6 L1863.8 229.8 L1867.9 231 L1872.1 232.3 L1876.2 233.6 L1880.3 234.9 L1884.4 236.3 L1888.5 237.7 L1892.7 239.2 L1896.8 240.7 L1900.9 242.3 L1905 243.9 L1909.1 245.5 L1913.3 247.3 L1917.4 249 L1921.5 250.9 L1925.6 252.8 L1929.7 254.7 L1933.9 256.8 L1938 258.9 L1942.1 261.1 L1946.2 263.3 L1950.3 265.7 L1954.5 268.2 L1958.6 270.7 L1962.7 273.4 L1966.8 276.2 L1970.9 279 L1975.1 282.1 L1979.2 285.2 L1983.3 288.5 L1987.4 292 L1991.5 295.6 L1995.7 299.4 L1999.8 303.4 L2003.9 307.6 L2008 312 L2012.1 316.7 L2016.3 321.6 L2020.4 326.8 L2024.5 332.5 L2028.6 338.5 L2032.7 344.8 L2036.9 351.6 L2041 358.9 L2045.1 366.7 L2049.2 375 L2053.3 383.9 L2057.5 393.5 L2061.6 404 L2065.7 415.3 L2069.8 427.6" fill="none" stroke="#7a1446" stroke-width="9.5" stroke-linecap="round" stroke-linejoin="round"/>
</g>
<rect x="1547.6" y="80.4" width="565.8" height="768.1" fill="none" stroke="#000" stroke-width="3.3" stroke-linejoin="round"/>
<path d="M1594.8 848.5 V869.1 M1699.5 848.5 V869.1 M1804.3 848.5 V869.1 M1909.1 848.5 V869.1 M2013.9 848.5 V869.1 M1547.6 738 H1527 M1547.6 628.6 H1527 M1547.6 519.2 H1527 M1547.6 409.7 H1527 M1547.6 300.3 H1527 M1547.6 190.9 H1527" fill="none" stroke="#000" stroke-width="3.3" stroke-linecap="round"/>
<g font-size="43.5" text-anchor="middle" fill="#000">
<text transform="translate(1594.8 922.4) scale(1 1.075)">10</text>
<text transform="translate(1699.5 922.4) scale(1 1.075)">8</text>
<text transform="translate(1804.3 922.4) scale(1 1.075)">6</text>
<text transform="translate(1909.1 922.4) scale(1 1.075)">4</text>
<text transform="translate(2013.9 922.4) scale(1 1.075)">2</text>
<text transform="translate(1498.8 738) rotate(-90) scale(1 1.075)">0.0</text>
<text transform="translate(1498.8 628.6) rotate(-90) scale(1 1.075)">0.2</text>
<text transform="translate(1498.8 519.2) rotate(-90) scale(1 1.075)">0.4</text>
<text transform="translate(1498.8 409.7) rotate(-90) scale(1 1.075)">0.6</text>
<text transform="translate(1498.8 300.3) rotate(-90) scale(1 1.075)">0.8</text>
<text transform="translate(1498.8 190.9) rotate(-90) scale(1 1.075)">1.0</text>
</g>
<g font-size="44.2" font-weight="bold" text-anchor="middle" fill="#000">
<text x="453.7" y="35.2">H0</text>
<text x="1142.1" y="35.2">H1: Logistic</text>
<text x="1830.5" y="35.2">H2: Michaelis-Menten</text>
</g>
<text x="1080.8" y="1004" font-size="51.5" text-anchor="middle" fill="#000">Oxygen (mL/L)</text>
<text transform="translate(40.1 506) rotate(-90)" font-size="51.5" text-anchor="middle" fill="#000">Proportion of baseline</text>
<g stroke-width="9.5" stroke-linecap="round" fill="none">
<path d="M2152.1 407.6 H2225.5" stroke="#000000"/>
<path d="M2152.1 505.4 H2225.5" stroke="#2a1480"/>
<path d="M2152.1 554.1 H2225.5" stroke="#166b2a"/>
<path d="M2152.1 603.2 H2225.5" stroke="#7a1446"/>
</g>
<g font-size="40.8" fill="#000">
<text x="2262" y="422.4">All rates</text>
<text x="2262" y="520.2">Activity</text>
<text x="2262" y="568.9">Consumption</text>
<text x="2262" y="618">FCE</text>
</g>
</svg></body></html>
